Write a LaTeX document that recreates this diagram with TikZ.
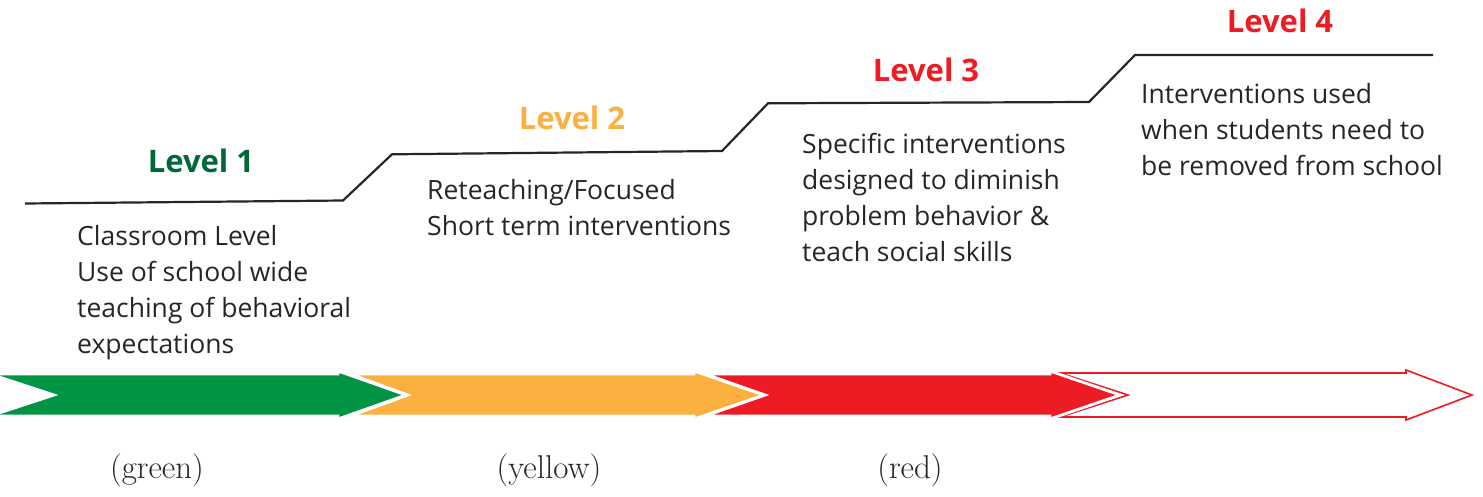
\documentclass[tikz,border=0pt]{standalone}
\usepackage{fontspec}
\newfontfamily\bodyfont{Open Sans}
\definecolor{lgreen}{RGB}{0,148,68}
\definecolor{dgreen}{RGB}{0,104,56}
\definecolor{lyellow}{RGB}{251,176,64}
\definecolor{lred}{RGB}{237,28,36}
\tikzset{
  levelhead/.style={font=\bodyfont\bfseries\fontsize{31}{36}\selectfont, anchor=base, inner sep=0pt},
  bodytext/.style={font=\bodyfont\fontsize{26.5}{36}\selectfont, anchor=base west, align=left, inner sep=0pt, text=black!85},
  colorlabel/.style={font=\fontsize{33}{35}\selectfont, anchor=base, inner sep=0pt, text=black!85},
  stepline/.style={line width=2.2pt, black!85},
  arrowshape/.style={draw=white, line width=2.8pt, line join=miter}
}
\begin{document}
\begin{tikzpicture}[x=1pt,y=-1pt]
\useasboundingbox (0,0) rectangle (1483,496);
% step line
\coordinate (s0) at (25,203.5);
\coordinate (s1) at (343,200.5);
\coordinate (s2) at (392,154.3);
\coordinate (s3) at (722,151);
\coordinate (s4) at (768,103.3);
\coordinate (s5) at (1089,102);
\coordinate (s6) at (1135,55);
\coordinate (s7) at (1433,55);
\draw[stepline] (s0) -- (s1) -- (s2) -- (s3) -- (s4) -- (s5) -- (s6) -- (s7);
% arrows (right to left so heads overlap notches)
\filldraw[fill=white, draw=lred, line width=1.6pt, line join=miter]
  (1060,373) -- (1406,373) -- (1406,370) -- (1472,395) -- (1406,420) -- (1406,417) -- (1060,417) -- (1128,395) -- cycle;
\filldraw[arrowshape, fill=lred]
  (705,374) -- (1050,374) -- (1050,371) -- (1120,395) -- (1050,419) -- (1050,416) -- (705,416) -- (765,395) -- cycle;
\filldraw[arrowshape, fill=lyellow]
  (350,374) -- (694,374) -- (694,371) -- (764,395) -- (694,419) -- (694,416) -- (350,416) -- (408,395) -- cycle;
\filldraw[arrowshape, fill=lgreen]
  (-10,374) -- (338,374) -- (338,371) -- (406,395) -- (338,419) -- (338,416) -- (-10,416) -- (54,395) -- cycle;
% headings
\node[levelhead, text=dgreen] (h1) at (201,172) {Level 1};
\node[levelhead, text=lyellow] (h2) at (572,129) {Level 2};
\node[levelhead, text=lred] (h3) at (926,81) {Level 3};
\node[levelhead, text=lred] (h4) at (1280,32) {Level 4};
% body texts (base = baseline of last line)
\node[bodytext] (t1) at (77,353) {Classroom Level\\Use of school wide\\teaching of behavioral\\expectations};
\node[bodytext] (t2) at (427,235) {Reteaching/Focused\\Short term interventions};
\node[bodytext] (t3) at (802,261) {Specific interventions\\designed to diminish\\problem behavior \&\\teach social skills};
\node[bodytext] (t4) at (1141,175) {Interventions used\\when students need to\\be removed from school};
% colour labels
\node[colorlabel] (c1) at (157,478) {(green)};
\node[colorlabel] (c2) at (549,478) {(yellow)};
\node[colorlabel] (c3) at (910,478) {(red)};
\end{tikzpicture}
\end{document}
